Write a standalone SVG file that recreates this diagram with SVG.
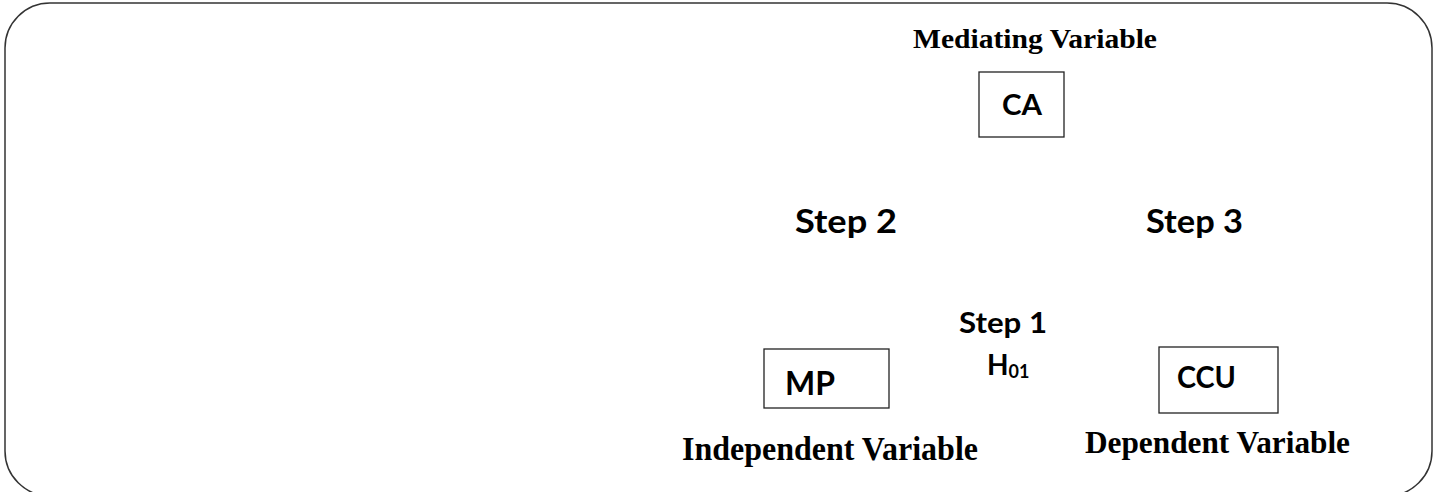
<svg xmlns="http://www.w3.org/2000/svg" width="1438" height="492" viewBox="0 0 1438 492">
<style>
.frame{fill:none;stroke:#333;stroke-width:1.5}
.box{fill:#fff;stroke:#222;stroke-width:1.3}
.lbl{font-family:"Liberation Serif",serif;font-weight:bold;fill:#000}
.nt{font-family:Lato,"Open Sans",sans-serif;font-weight:bold;fill:#000}
</style>
<rect class="frame" x="5" y="3" width="1427" height="493" rx="45" ry="45"/>
<g id="connectors"></g>
<g id="CA">
<text class="lbl" x="913" y="48" font-size="27" textLength="244" lengthAdjust="spacingAndGlyphs">Mediating Variable</text>
<rect class="box" x="979" y="72" width="85" height="65"/>
<text class="nt" x="1002" y="115" font-size="28" textLength="40" lengthAdjust="spacingAndGlyphs">CA</text>
</g>
<g id="MP">
<rect class="box" x="764" y="349" width="125" height="59"/>
<text class="nt" x="785" y="395" font-size="33" textLength="50" lengthAdjust="spacingAndGlyphs">MP</text>
<text class="lbl" x="682" y="460" font-size="33" textLength="296" lengthAdjust="spacingAndGlyphs">Independent Variable</text>
</g>
<g id="CCU">
<rect class="box" x="1159" y="347" width="119" height="66"/>
<text class="nt" x="1177" y="388" font-size="31" textLength="59" lengthAdjust="spacingAndGlyphs">CCU</text>
<text class="lbl" x="1085" y="453" font-size="32" textLength="265" lengthAdjust="spacingAndGlyphs">Dependent Variable</text>
</g>
<g id="labels">
<text class="nt" x="795" y="233" font-size="32" textLength="102" lengthAdjust="spacingAndGlyphs">Step 2</text>
<text class="nt" x="1146" y="233" font-size="32" textLength="97" lengthAdjust="spacingAndGlyphs">Step 3</text>
<text class="nt" x="959" y="333" font-size="28" textLength="88" lengthAdjust="spacingAndGlyphs">Step 1</text>
<text class="nt" x="987" y="375" font-size="28">H<tspan font-size="18" dy="3">01</tspan></text>
</g>
</svg>
